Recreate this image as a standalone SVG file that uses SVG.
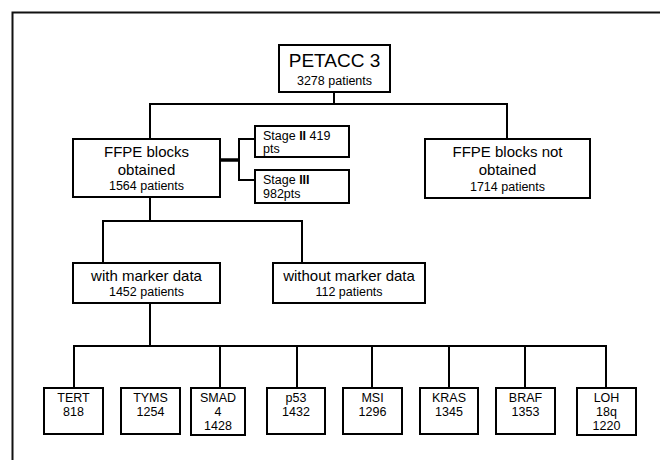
<svg xmlns="http://www.w3.org/2000/svg" width="660" height="460" viewBox="0 0 660 460">
<style>
.box{fill:#fff;stroke:#000;stroke-width:2}
.ln{fill:none;stroke:#000;stroke-width:2}
text{font-family:"Liberation Sans",Arial,sans-serif;fill:#000;text-anchor:middle}
.t19{font-size:19px}
.t15{font-size:15px}
.t13{font-size:12.5px}
.l{text-anchor:start}
.b{font-weight:bold}
</style>
<rect x="0" y="0" width="660" height="460" fill="#fff"/>
<path d="M12.5 460 V12.5 H660" fill="none" stroke="#111" stroke-width="2"/>
<g id="connectors">
<path class="ln" d="M334 92 V104 M150 139 V104 H507 V139"/>
<path class="ln" d="M150 197 V221 M103 263 V221 H302 V263"/>
<path d="M220 160 H239" stroke="#000" stroke-width="3.5"/>
<path class="ln" d="M255 139 H239 V180 H255"/>
<path class="ln" d="M150 303 V346 M74 388 V346 H606 V388 M220 346 V388 M297 346 V388 M372 346 V388 M449 346 V388 M525 346 V388"/>
</g>
<g id="petacc">
<rect class="box" x="279" y="45" width="111" height="47"/>
<text class="t19" x="334.5" y="67">PETACC 3</text>
<text class="t13" x="334.5" y="85">3278 patients</text>
</g>
<g id="ffpe-obtained">
<rect class="box" x="73" y="139" width="147" height="58"/>
<text class="t15" x="146.5" y="157">FFPE blocks</text>
<text class="t15" x="146.5" y="175">obtained</text>
<text class="t13" x="146.5" y="190">1564 patients</text>
</g>
<g id="stage2">
<rect class="box" x="255" y="126" width="94" height="31"/>
<text class="t13 l" x="263" y="140">Stage <tspan class="b">II</tspan> 419</text>
<text class="t13 l" x="263" y="153">pts</text>
</g>
<g id="stage3">
<rect class="box" x="255" y="170" width="94" height="33"/>
<text class="t13 l" x="263" y="184">Stage <tspan class="b">III</tspan></text>
<text class="t13 l" x="263" y="198">982pts</text>
</g>
<g id="ffpe-not">
<rect class="box" x="425" y="139" width="165" height="59"/>
<text class="t15" x="507.5" y="157">FFPE blocks not</text>
<text class="t15" x="507.5" y="175">obtained</text>
<text class="t13" x="507.5" y="191">1714 patients</text>
</g>
<g id="with-marker">
<rect class="box" x="73" y="263" width="147" height="40"/>
<text class="t15" x="146.5" y="281">with marker data</text>
<text class="t13" x="146.5" y="296">1452 patients</text>
</g>
<g id="without-marker">
<rect class="box" x="273" y="263" width="152" height="40"/>
<text class="t15" x="349" y="281">without marker data</text>
<text class="t13" x="349" y="296">112 patients</text>
</g>
<g id="tert">
<rect class="box" x="44" y="388" width="59" height="46"/>
<text class="t13" x="73.5" y="402">TERT</text>
<text class="t13" x="73.5" y="416">818</text>
</g>
<g id="tyms">
<rect class="box" x="121" y="388" width="59" height="46"/>
<text class="t13" x="150.5" y="402">TYMS</text>
<text class="t13" x="150.5" y="416">1254</text>
</g>
<g id="smad4">
<rect class="box" x="191" y="388" width="54" height="47"/>
<text class="t13" x="218" y="402">SMAD</text>
<text class="t13" x="218" y="416">4</text>
<text class="t13" x="218" y="430">1428</text>
</g>
<g id="p53">
<rect class="box" x="267" y="388" width="58" height="46"/>
<text class="t13" x="296" y="402">p53</text>
<text class="t13" x="296" y="416">1432</text>
</g>
<g id="msi">
<rect class="box" x="343" y="388" width="59" height="46"/>
<text class="t13" x="372.5" y="402">MSI</text>
<text class="t13" x="372.5" y="416">1296</text>
</g>
<g id="kras">
<rect class="box" x="420" y="388" width="58" height="46"/>
<text class="t13" x="449" y="402">KRAS</text>
<text class="t13" x="449" y="416">1345</text>
</g>
<g id="braf">
<rect class="box" x="496" y="388" width="59" height="46"/>
<text class="t13" x="525.5" y="402">BRAF</text>
<text class="t13" x="525.5" y="416">1353</text>
</g>
<g id="loh18q">
<rect class="box" x="577" y="388" width="59" height="47"/>
<text class="t13" x="606.5" y="402">LOH</text>
<text class="t13" x="606.5" y="416">18q</text>
<text class="t13" x="606.5" y="430">1220</text>
</g>
</svg>
